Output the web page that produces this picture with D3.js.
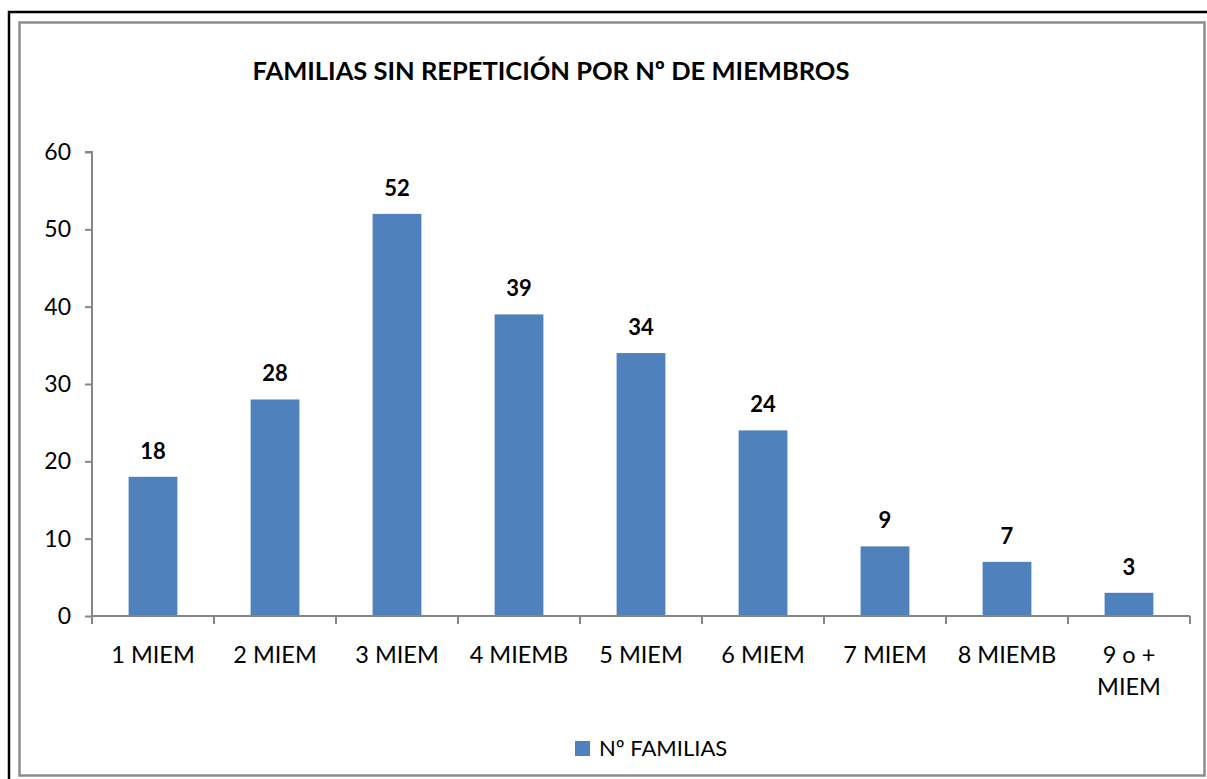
<!DOCTYPE html>
<html><head><meta charset="utf-8">
<script src="https://cdn.jsdelivr.net/npm/d3@7"></script>
<style>body{margin:0;background:#fff}svg{display:block}</style>
</head><body>
<svg id="c" width="1207" height="779"></svg>
<script>
const categories = ["1 MIEM","2 MIEM","3 MIEM","4 MIEMB","5 MIEM","6 MIEM","7 MIEM","8 MIEMB","9 o + MIEM"];
const categoryLines = [["1 MIEM"],["2 MIEM"],["3 MIEM"],["4 MIEMB"],["5 MIEM"],["6 MIEM"],["7 MIEM"],["8 MIEMB"],["9 o +","MIEM"]];
const values = [18,28,52,39,34,24,9,7,3];
const yTicks = [0,10,20,30,40,50,60];
const title = "FAMILIAS SIN REPETICIÓN POR Nº DE MIEMBROS";
const seriesName = "Nº FAMILIAS";

const svg = d3.select("#c");
const font = "Lato, 'Open Sans', sans-serif";
const color = "#4F81BD";
const axisColor = "#868686";

// borders
svg.append("rect").attr("x",9).attr("y",12).attr("width",1210).attr("height",780)
  .attr("fill","none").attr("stroke","#000").attr("stroke-width",2.5);
svg.append("rect").attr("x",19.5).attr("y",22.5).attr("width",1185).attr("height",753)
  .attr("fill","#fff").attr("stroke","#8c8c8c").attr("stroke-width",2.5);

const x0 = 92, x1 = 1190, yTop = 152, yBot = 616;
const x = d3.scaleBand().domain(categories).range([x0,x1]).paddingInner(0.6).paddingOuter(0.3);
const y = d3.scaleLinear().domain([0,60]).range([yBot,yTop]);

// title
svg.append("text").attr("x",551).attr("y",80).attr("text-anchor","middle")
  .attr("font-family",font).attr("font-weight","bold").attr("font-size",25.5)
  .attr("fill","#000").text(title);

// bars
svg.append("g").selectAll("rect").data(values).join("rect")
  .attr("x",(d,i)=>x(categories[i]))
  .attr("y",d=>y(d))
  .attr("width",x.bandwidth())
  .attr("height",d=>y(0)-y(d))
  .attr("fill",color);

// data labels
svg.append("g").selectAll("text").data(values).join("text")
  .attr("x",(d,i)=>x(categories[i])+x.bandwidth()/2)
  .attr("y",d=>y(d)-18)
  .attr("text-anchor","middle")
  .attr("font-family",font).attr("font-weight","bold").attr("font-size",22)
  .attr("fill","#000").text(d=>d);

// y axis
const yAxis = svg.append("g").attr("transform",`translate(${x0},0)`)
  .call(d3.axisLeft(y).tickValues(yTicks).tickSize(7).tickPadding(14));
yAxis.select(".domain").attr("stroke",axisColor).attr("stroke-width",2).attr("d",`M-7,${yTop}H0V${yBot}`);
yAxis.selectAll(".tick line").attr("stroke",axisColor).attr("stroke-width",2);
yAxis.selectAll(".tick text").attr("font-family",font).attr("font-size",23).attr("fill","#000");

// x axis
const step = (x1-x0)/categories.length;
const tickPos = d3.range(categories.length+1).map(i=>x0+i*step);
const xg = svg.append("g");
xg.append("line").attr("x1",x0).attr("x2",x1).attr("y1",yBot).attr("y2",yBot)
  .attr("stroke",axisColor).attr("stroke-width",2);
xg.selectAll("line.t").data(tickPos).join("line").attr("class","t")
  .attr("x1",d=>d).attr("x2",d=>d).attr("y1",yBot).attr("y2",yBot+8)
  .attr("stroke",axisColor).attr("stroke-width",2);
categoryLines.forEach((lines,i)=>{
  const t = xg.append("text").attr("x",x(categories[i])+x.bandwidth()/2).attr("y",663)
    .attr("text-anchor","middle").attr("font-family",font).attr("font-size",23.5).attr("fill","#000");
  lines.forEach((l,j)=>t.append("tspan").attr("x",x(categories[i])+x.bandwidth()/2).attr("dy",j?32:0).text(l));
});

// legend
svg.append("rect").attr("x",575).attr("y",741).attr("width",15).attr("height",15).attr("fill",color);
svg.append("text").attr("x",599).attr("y",756).attr("font-family",font).attr("font-size",22)
  .attr("fill","#000").text(seriesName);
</script>
</body></html>
